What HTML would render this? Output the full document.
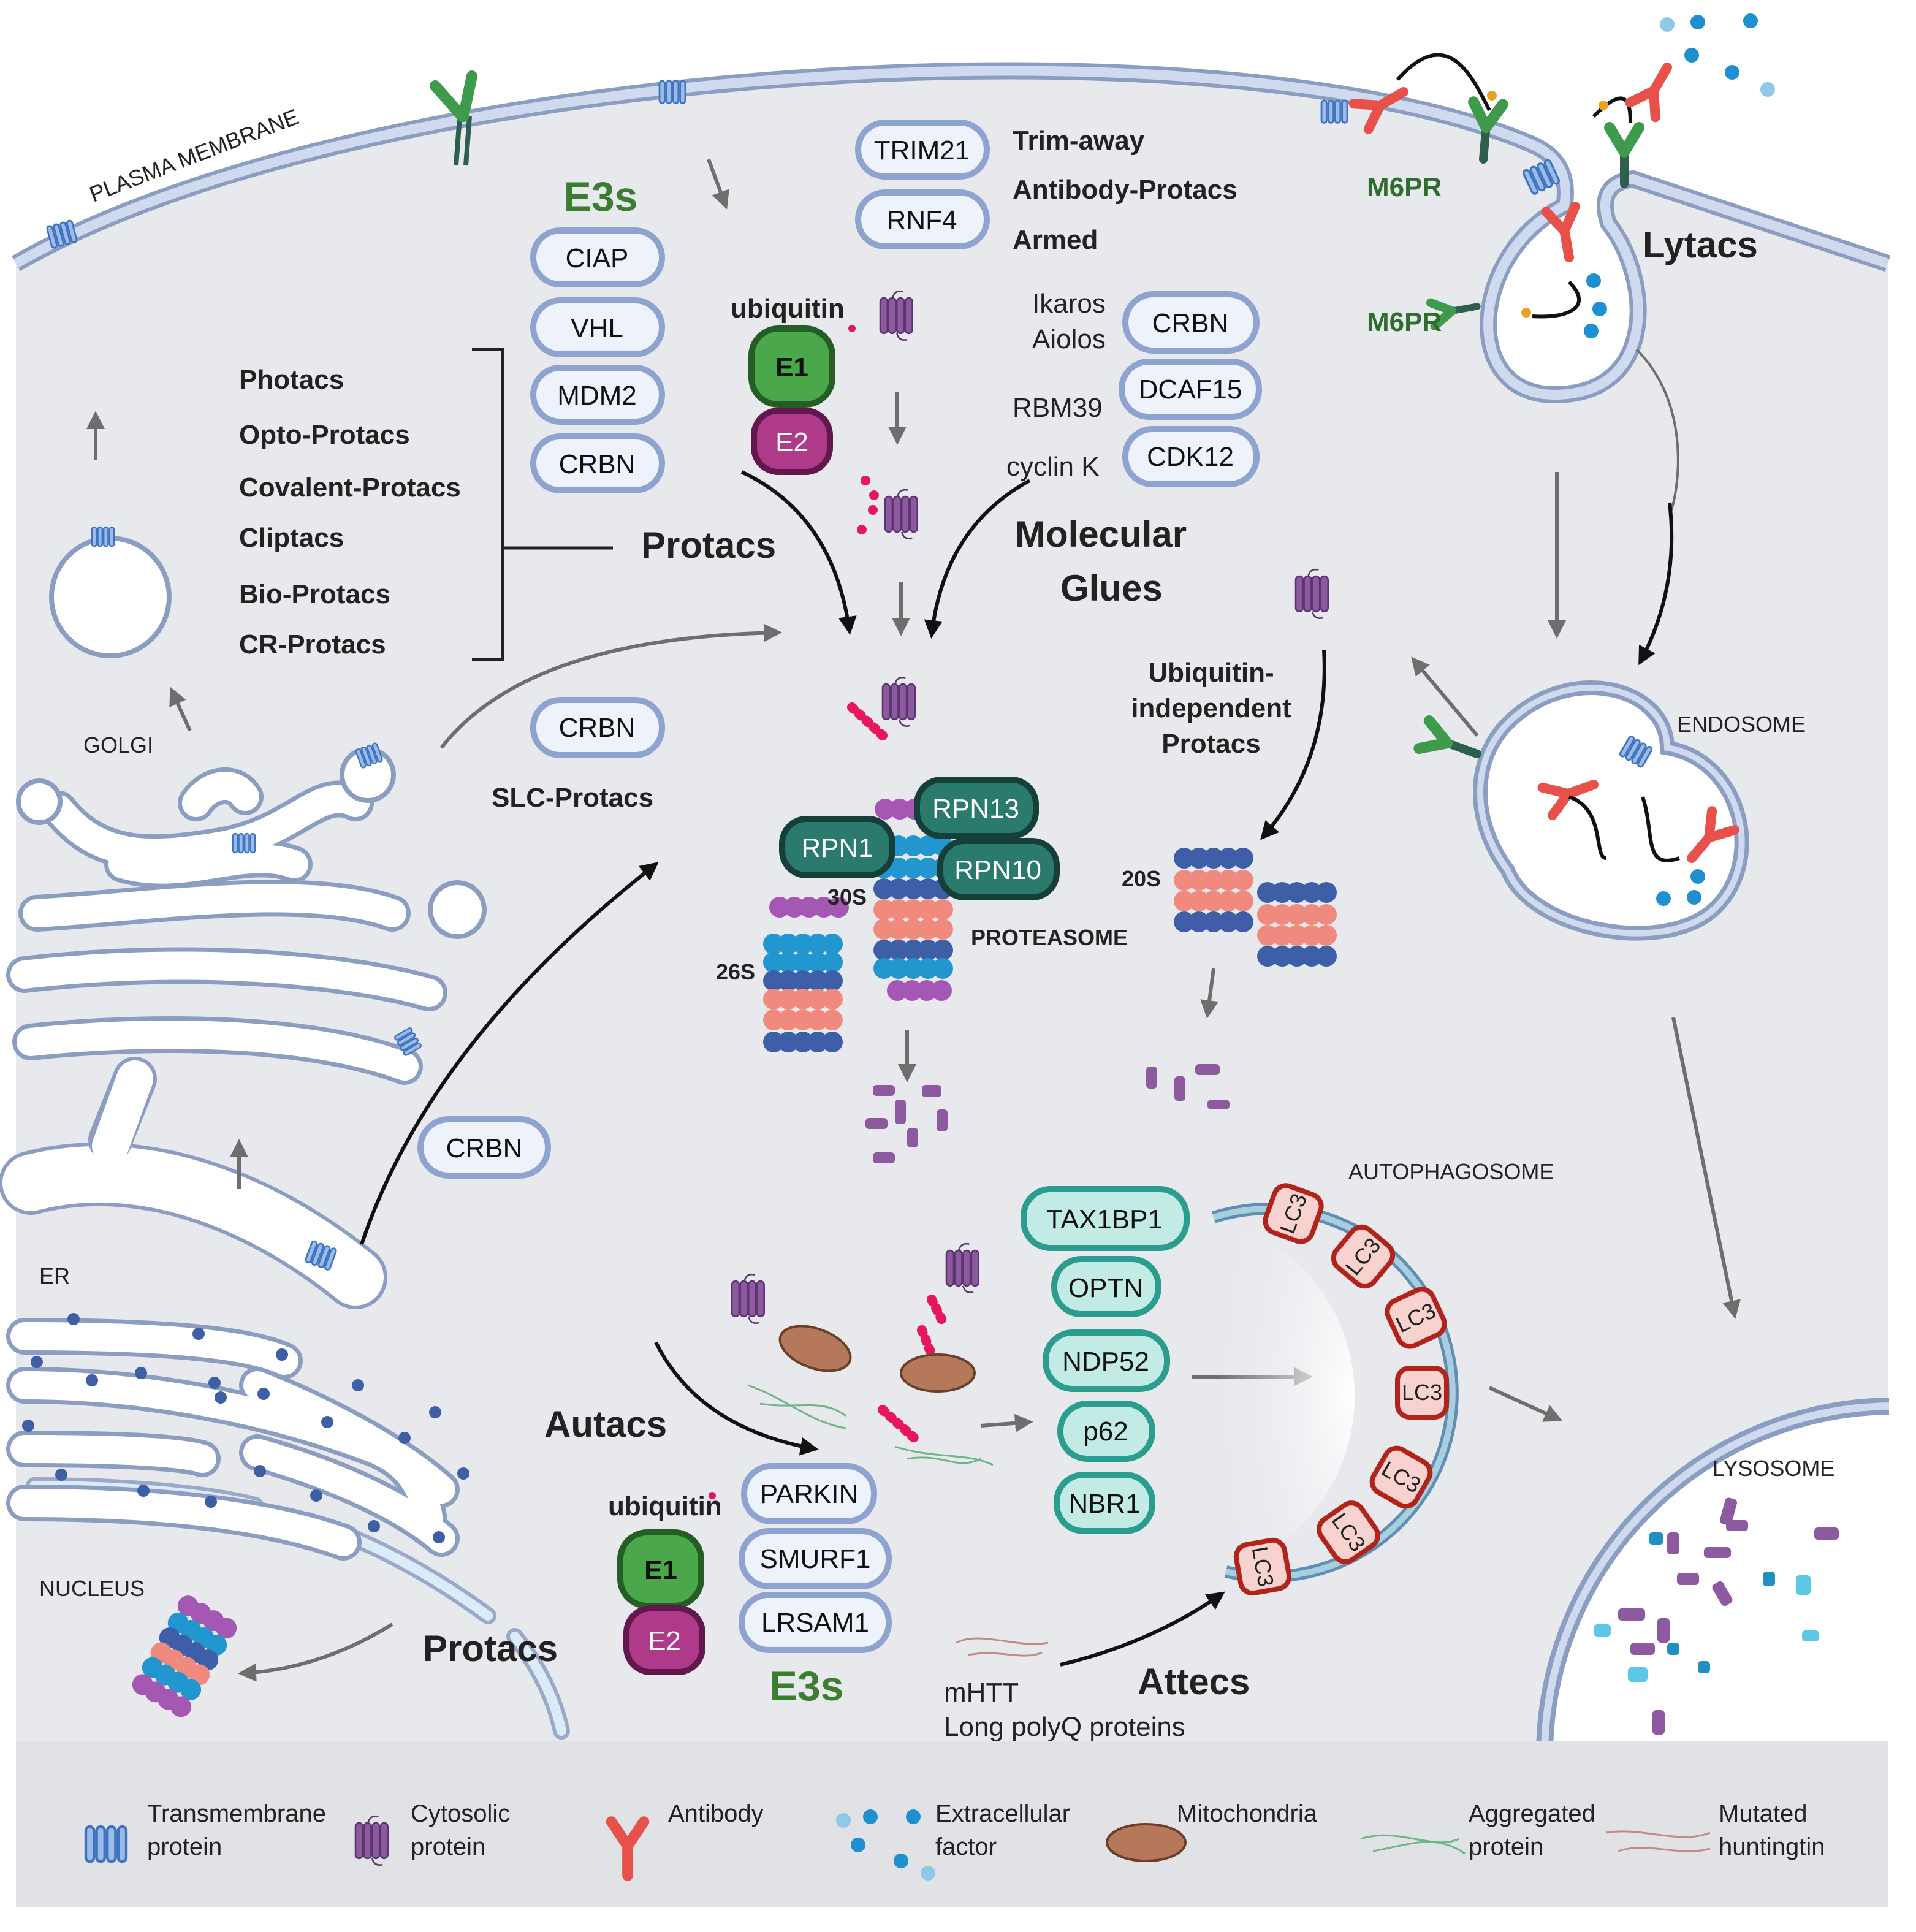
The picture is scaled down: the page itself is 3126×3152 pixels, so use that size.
<!DOCTYPE html>
<html><head><meta charset="utf-8"><style>
html,body{margin:0;padding:0;background:#fff;width:3126px;height:3152px;overflow:hidden}
svg{display:block;overflow:hidden}
text{font-family:"Liberation Sans",Arial,sans-serif}
.b{font-weight:bold}
</style></head><body>
<svg width="3126" height="3152" viewBox="0 0 1563 1576" xmlns="http://www.w3.org/2000/svg" overflow="hidden">
<defs>
<clipPath id="cellclip"><rect x="0" y="0" width="1541" height="1420"/></clipPath>
<marker id="ag" viewBox="0 0 10 10" refX="8" refY="5" markerWidth="5" markerHeight="5" orient="auto"><path d="M0,0 L10,5 L0,10 z" fill="#6e6e6e"/></marker>
<marker id="ak" viewBox="0 0 10 10" refX="8" refY="5" markerWidth="5" markerHeight="5" orient="auto"><path d="M0,0 L10,5 L0,10 z" fill="#111"/></marker>
<g id="row"><circle cx="-24" r="8.5"/><circle cx="-12" r="8.5"/><circle cx="0" r="8.5"/><circle cx="12" r="8.5"/><circle cx="24" r="8.5"/></g>
<g id="row4"><circle cx="-18" r="8.5"/><circle cx="-6" r="8.5"/><circle cx="6" r="8.5"/><circle cx="18" r="8.5"/></g>
<g id="tm" fill="#9dbbe8" stroke="#3f74c0" stroke-width="2"><rect x="0" y="0" width="6" height="26" rx="3"/><rect x="8" y="0" width="6" height="26" rx="3"/><rect x="16" y="0" width="6" height="26" rx="3"/><rect x="24" y="0" width="6" height="26" rx="3"/></g>
<g id="cy" fill="#8d5aa0" stroke="#5b3470" stroke-width="1.5"><rect x="0" y="0" width="7" height="34" rx="3.5"/><rect x="8" y="0" width="7" height="34" rx="3.5"/><rect x="16" y="0" width="7" height="34" rx="3.5"/><rect x="24" y="0" width="7" height="34" rx="3.5"/><path d="M12,0 Q14,-8 22,-6 M16,34 Q18,42 26,40" fill="none"/></g>
<g id="abG" stroke-linecap="round"><path d="M0,0 L0,-26" stroke="#2e5e4e" stroke-width="7"/><path d="M0,-26 L-12,-46 M0,-26 L12,-46" stroke="#3f9b4c" stroke-width="9"/></g>
<g id="abR" stroke-linecap="round"><path d="M0,0 L0,-22" stroke="#e8504a" stroke-width="8"/><path d="M0,-22 L-12,-40 M0,-22 L12,-40" stroke="#e8504a" stroke-width="8"/></g>
<radialGradient id="auto" cx="1" cy="0.5" r="1"><stop offset="0" stop-color="#fff"/><stop offset="1" stop-color="#e9eaee" stop-opacity="0"/></radialGradient>
</defs>

<!-- cell body -->
<path d="M13,215 C 300,50 1000,10 1250,118 Q 1282,132 1276,168 C 1200,205 1190,322 1268,322 C 1352,322 1348,228 1312,182 Q 1302,150 1332,146 L 1540,215 L1540,1420 L13,1420 Z" fill="#e8e9ed"/>
<path d="M13,215 C 300,50 1000,10 1250,118 Q 1282,132 1276,168 C 1200,205 1190,322 1268,322 C 1352,322 1348,228 1312,182 Q 1302,150 1332,146 L 1540,215" fill="none" stroke="#8c9dc2" stroke-width="14"/>
<path d="M13,215 C 300,50 1000,10 1250,118 Q 1282,132 1276,168 C 1200,205 1190,322 1268,322 C 1352,322 1348,228 1312,182 Q 1302,150 1332,146 L 1540,215" fill="none" stroke="#cfdaee" stroke-width="8"/>
<text x="0" y="0" font-size="18" fill="#222" transform="translate(76,165) rotate(-21)">PLASMA MEMBRANE</text>

<!-- lysosome -->
<g clip-path="url(#cellclip)">
<circle cx="1545" cy="1432" r="285" fill="#fff" stroke="#8c9dc2" stroke-width="14"/>
<circle cx="1545" cy="1432" r="285" fill="none" stroke="#cfdaee" stroke-width="6"/>
</g>
<!-- legend band -->
<rect x="13" y="1420" width="1527" height="136" fill="#e1e2e5"/>
<text x="1397" y="1204" font-size="18" fill="#222">LYSOSOME</text>
<g fill="#8d5aa0"><rect x="1405" y="1222" width="10" height="22" rx="3" transform="rotate(15 1410 1233)"/><rect x="1480" y="1246" width="20" height="10" rx="3"/><rect x="1360" y="1250" width="10" height="18" rx="3"/><rect x="1390" y="1262" width="22" height="9" rx="3"/><rect x="1368" y="1283" width="18" height="10" rx="3"/><rect x="1400" y="1290" width="10" height="20" rx="3" transform="rotate(-30 1405 1300)"/><rect x="1320" y="1312" width="22" height="10" rx="3"/><rect x="1352" y="1320" width="10" height="20" rx="3"/><rect x="1330" y="1340" width="20" height="10" rx="3"/><rect x="1348" y="1395" width="10" height="20" rx="3"/><rect x="1408" y="1240" width="18" height="9" rx="3"/></g>
<g fill="#1f8fc4"><rect x="1345" y="1250" width="12" height="10" rx="3"/><rect x="1438" y="1282" width="10" height="12" rx="3"/><rect x="1360" y="1340" width="10" height="10" rx="3"/><rect x="1385" y="1355" width="10" height="10" rx="3"/></g>
<g fill="#5bc8e6"><rect x="1465" y="1285" width="12" height="16" rx="3"/><rect x="1300" y="1325" width="14" height="10" rx="3"/><rect x="1328" y="1360" width="16" height="12" rx="3"/><rect x="1470" y="1330" width="14" height="9" rx="3"/></g>

<!-- nucleus envelope -->
<g fill="none" stroke-linecap="round">
<path d="M28,1212 C 100,1212 170,1218 208,1228" stroke="#9aa9c9" stroke-width="14"/>
<path d="M28,1212 C 100,1212 170,1218 208,1228" stroke="#dcebf8" stroke-width="8"/>
<path d="M250,1240 C 310,1260 360,1290 398,1318" stroke="#9aa9c9" stroke-width="14"/>
<path d="M250,1240 C 310,1260 360,1290 398,1318" stroke="#dcebf8" stroke-width="8"/>
<path d="M420,1335 C 440,1360 452,1385 458,1412" stroke="#9aa9c9" stroke-width="14"/>
<path d="M420,1335 C 440,1360 452,1385 458,1412" stroke="#dcebf8" stroke-width="8"/>
</g>
<text x="32" y="1302" font-size="18" fill="#222">NUCLEUS</text>

<!-- ER -->
<g fill="none" stroke-linecap="round" stroke-linejoin="round">
<g stroke="#8c9dc2" stroke-width="30">
<path d="M20,1090 C 120,1090 200,1095 232,1110"/>
<path d="M20,1130 C 120,1130 220,1150 300,1180 C 330,1190 345,1210 350,1240"/>
<path d="M20,1182 C 100,1182 150,1185 165,1190"/>
<path d="M20,1226 C 150,1226 230,1240 280,1258"/>
<path d="M210,1130 C 260,1150 320,1180 360,1215"/>
<path d="M210,1185 C 280,1205 330,1230 360,1255"/>
</g>
<g stroke="#fff" stroke-width="23">
<path d="M20,1090 C 120,1090 200,1095 232,1110"/>
<path d="M20,1130 C 120,1130 220,1150 300,1180 C 330,1190 345,1210 350,1240"/>
<path d="M20,1182 C 100,1182 150,1185 165,1190"/>
<path d="M20,1226 C 150,1226 230,1240 280,1258"/>
<path d="M210,1130 C 260,1150 320,1180 360,1215"/>
<path d="M210,1185 C 280,1205 330,1230 360,1255"/>
</g>
<path d="M25,965 C 120,940 220,985 290,1042" stroke="#8c9dc2" stroke-width="52"/>
<path d="M25,965 C 120,940 220,985 290,1042" stroke="#fff" stroke-width="46"/>
<path d="M90,930 L110,880" stroke="#8c9dc2" stroke-width="36"/>
<path d="M90,935 L110,880" stroke="#fff" stroke-width="30"/>
</g>
<g fill="#3e5ea6"><circle cx="60" cy="1076" r="5"/><circle cx="162" cy="1088" r="5"/><circle cx="30" cy="1111" r="5"/><circle cx="75" cy="1126" r="5"/><circle cx="115" cy="1120" r="5"/><circle cx="175" cy="1128" r="5"/><circle cx="180" cy="1140" r="5"/><circle cx="230" cy="1105" r="5"/><circle cx="215" cy="1137" r="5"/><circle cx="292" cy="1130" r="5"/><circle cx="355" cy="1152" r="5"/><circle cx="378" cy="1202" r="5"/><circle cx="330" cy="1173" r="5"/><circle cx="267" cy="1160" r="5"/><circle cx="23" cy="1163" r="5"/><circle cx="50" cy="1203" r="5"/><circle cx="117" cy="1216" r="5"/><circle cx="172" cy="1225" r="5"/><circle cx="212" cy="1200" r="5"/><circle cx="258" cy="1220" r="5"/><circle cx="305" cy="1245" r="5"/><circle cx="358" cy="1254" r="5"/></g>
<text x="32" y="1047" font-size="18" fill="#222">ER</text>
<use href="#tm" transform="translate(255,1012) rotate(20) scale(0.7)"/>

<!-- Golgi -->
<g fill="none" stroke-linecap="round">
<g stroke="#8c9dc2" stroke-width="30">
<path d="M48,660 C 80,700 120,700 180,690 C 240,680 260,640 290,655"/>
<path d="M30,745 C 120,740 250,720 320,745"/>
<path d="M20,795 C 150,780 280,790 350,810"/>
<path d="M25,850 C 120,840 250,840 330,870"/>
<path d="M100,705 C 150,720 200,690 240,705"/>
<path d="M160,655 C 170,640 190,635 200,650"/>
</g>
<g stroke="#fff" stroke-width="23">
<path d="M48,660 C 80,700 120,700 180,690 C 240,680 260,640 290,655"/>
<path d="M30,745 C 120,740 250,720 320,745"/>
<path d="M20,795 C 150,780 280,790 350,810"/>
<path d="M25,850 C 120,840 250,840 330,870"/>
<path d="M100,705 C 150,720 200,690 240,705"/>
<path d="M160,655 C 170,640 190,635 200,650"/>
</g>
</g>
<g fill="#fff" stroke="#8c9dc2" stroke-width="4"><circle cx="32" cy="654" r="17"/><circle cx="300" cy="632" r="21"/><circle cx="373" cy="742" r="22"/><circle cx="90" cy="487" r="48"/></g>
<use href="#tm" transform="translate(190,680) scale(0.6)"/>
<use href="#tm" transform="translate(290,612) rotate(-20) scale(0.6)"/>
<use href="#tm" transform="translate(335,838) rotate(60) scale(0.6)"/>
<use href="#tm" transform="translate(75,430) scale(0.6)"/>
<text x="68" y="614" font-size="18" fill="#222">GOLGI</text>

<!-- membrane proteins -->
<use href="#tm" transform="translate(38,185) rotate(-15) scale(0.7)"/>
<use href="#tm" transform="translate(538,66) scale(0.7)"/>
<use href="#tm" transform="translate(1078,82) scale(0.7)"/>
<use href="#tm" transform="translate(1242,140) rotate(-25) scale(0.8)"/>
<g stroke="#2e5e4e" stroke-width="4"><path d="M372,135 L375,95 M380,135 L383,95"/></g>
<path d="M377,95 L355,70 M378,95 L385,62" stroke="#3f9b4c" stroke-width="9" stroke-linecap="round"/>
<!-- lytacs top -->
<path d="M1140,65 C 1180,20 1200,60 1215,90" fill="none" stroke="#111" stroke-width="3"/>
<use href="#abR" transform="translate(1145,75) rotate(-120)"/>
<use href="#abG" transform="translate(1210,130) rotate(5)"/>
<path d="M1330,100 C 1330,80 1325,70 1300,95" fill="none" stroke="#111" stroke-width="3"/>
<use href="#abR" transform="translate(1360,55) rotate(210)"/>
<use href="#abG" transform="translate(1325,150)"/>
<use href="#abR" transform="translate(1280,210) rotate(-10)"/>
<path d="M1280,230 C 1300,250 1280,260 1250,258" fill="none" stroke="#111" stroke-width="3"/>
<use href="#abG" transform="translate(1205,250) rotate(-100) scale(0.8)"/>
<g fill="#e8a41c"><circle cx="1217" cy="78" r="4"/><circle cx="1308" cy="86" r="4"/><circle cx="1245" cy="255" r="4"/></g>
<g fill="#1e8fd0"><circle cx="1385" cy="18" r="6"/><circle cx="1428" cy="17" r="6"/><circle cx="1380" cy="45" r="6"/><circle cx="1413" cy="59" r="6"/><circle cx="1300" cy="229" r="6"/><circle cx="1305" cy="252" r="6"/><circle cx="1298" cy="270" r="6"/></g>
<g fill="#8ec9e8"><circle cx="1360" cy="20" r="6"/><circle cx="1442" cy="73" r="6"/></g>
<text x="1115" y="160" font-size="22" class="b" fill="#2f6d2f">M6PR</text>
<text x="1115" y="270" font-size="22" class="b" fill="#2f6d2f">M6PR</text>
<text x="1340" y="210" font-size="30" class="b" fill="#222">Lytacs</text>

<!-- endosome -->
<path d="M1230,590 C 1280,540 1360,560 1360,610 C 1420,620 1440,700 1400,740 C 1360,780 1250,760 1230,710 C 1200,670 1200,620 1230,590 Z" fill="#fff" stroke="#8c9dc2" stroke-width="12"/>
<path d="M1230,590 C 1280,540 1360,560 1360,610 C 1420,620 1440,700 1400,740 C 1360,780 1250,760 1230,710 C 1200,670 1200,620 1230,590 Z" fill="none" stroke="#cfdaee" stroke-width="5"/>
<text x="1368" y="597" font-size="18" fill="#222">ENDOSOME</text>
<use href="#abG" transform="translate(1205,615) rotate(-70)"/>
<use href="#abR" transform="translate(1300,640) rotate(-110)"/>
<use href="#tm" transform="translate(1330,600) rotate(30) scale(0.7)"/>
<use href="#abR" transform="translate(1380,700) rotate(40)"/>
<path d="M1280,650 C 1310,660 1300,700 1310,700 M1340,650 C 1350,680 1340,710 1370,700" fill="none" stroke="#111" stroke-width="3"/>
<g fill="#1e8fd0"><circle cx="1385" cy="715" r="6"/><circle cx="1357" cy="733" r="6"/><circle cx="1382" cy="732" r="6"/></g>

<!-- arrows gray -->
<g stroke="#6e6e6e" stroke-width="3" fill="none" marker-end="url(#ag)">
<path d="M578,130 L592,168"/>
<path d="M78,375 L78,338"/>
<path d="M155,596 L140,563"/>
<path d="M195,970 L195,932"/>
<path d="M732,320 L732,360"/>
<path d="M735,475 L735,516"/>
<path d="M740,840 L740,880"/>
<path d="M990,790 L985,828"/>
<path d="M1270,385 L1270,518"/>
<path d="M1205,600 L1153,538"/>
<path d="M1365,830 L1415,1073"/>
<path d="M972,1123 L1068,1123"/>
<path d="M800,1163 L840,1160"/>
<path d="M1215,1132 L1272,1158"/>
<path d="M1335,285 C 1380,330 1370,400 1362,420" marker-end="none" stroke-width="2"/>
<path d="M320,1325 Q 260,1362 197,1365"/>
<path d="M360,610 Q 430,520 635,516"/>
</g>
<!-- arrows black -->
<g stroke="#111" stroke-width="3" fill="none" marker-end="url(#ak)">
<path d="M605,385 Q 680,420 693,515"/>
<path d="M840,392 Q 770,430 760,518"/>
<path d="M1080,530 Q 1085,620 1030,683"/>
<path d="M1362,410 Q 1370,480 1338,540"/>
<path d="M535,1095 Q 570,1165 665,1182"/>
<path d="M865,1358 Q 940,1340 997,1300"/>
<path d="M295,1015 Q 350,850 535,705"/>
</g>
<!-- bracket -->
<path d="M385,285 L410,285 L410,538 L385,538 M410,447 L500,447" fill="none" stroke="#222" stroke-width="2.5"/>

<!-- E3 pills -->
<g fill="#edf2fb" stroke="#8fa3d0" stroke-width="5">
<rect x="435" y="188" width="105" height="44" rx="22"/>
<rect x="435" y="245" width="105" height="44" rx="22"/>
<rect x="435" y="300" width="105" height="44" rx="22"/>
<rect x="435" y="356" width="105" height="44" rx="22"/>
<rect x="700" y="100" width="105" height="44" rx="22"/>
<rect x="700" y="157" width="105" height="44" rx="22"/>
<rect x="918" y="240" width="107" height="46" rx="23"/>
<rect x="915" y="295" width="112" height="45" rx="22"/>
<rect x="918" y="350" width="107" height="45" rx="22"/>
<rect x="435" y="571" width="105" height="45" rx="22"/>
<rect x="343" y="913" width="104" height="46" rx="23"/>
<rect x="607" y="1196" width="106" height="45" rx="22"/>
<rect x="605" y="1249" width="120" height="45" rx="22"/>
<rect x="605" y="1301" width="120" height="45" rx="22"/>
</g>
<g font-size="22" fill="#111" text-anchor="middle">
<text x="487" y="218">CIAP</text><text x="487" y="275">VHL</text><text x="487" y="330">MDM2</text><text x="487" y="386">CRBN</text>
<text x="752" y="130">TRIM21</text><text x="752" y="187">RNF4</text>
<text x="971" y="271">CRBN</text><text x="971" y="325">DCAF15</text><text x="971" y="380">CDK12</text>
<text x="487" y="601">CRBN</text><text x="395" y="944">CRBN</text>
<text x="660" y="1226">PARKIN</text><text x="665" y="1279">SMURF1</text><text x="665" y="1331">LRSAM1</text>
</g>
<!-- teal receptors -->
<g fill="#c3ebe5" stroke="#2a9d8f" stroke-width="5">
<rect x="835" y="970" width="133" height="48" rx="22"/>
<rect x="860" y="1027" width="85" height="45" rx="22"/>
<rect x="853" y="1087" width="99" height="46" rx="22"/>
<rect x="865" y="1145" width="75" height="45" rx="22"/>
<rect x="862" y="1203" width="78" height="46" rx="22"/>
</g>
<g font-size="22" fill="#111" text-anchor="middle">
<text x="901" y="1002">TAX1BP1</text><text x="902" y="1058">OPTN</text><text x="902" y="1118">NDP52</text><text x="902" y="1175">p62</text><text x="901" y="1234">NBR1</text>
</g>

<!-- E1/E2 -->
<g stroke-width="5">
<rect x="613" y="268" width="66" height="62" rx="22" fill="#4aa84a" stroke="#255e25"/>
<rect x="615" y="335" width="62" height="50" rx="20" fill="#b03a8a" stroke="#62174f"/>
<rect x="506" y="1250" width="66" height="60" rx="22" fill="#4aa84a" stroke="#255e25"/>
<rect x="511" y="1312" width="62" height="52" rx="20" fill="#b03a8a" stroke="#62174f"/>
</g>
<g font-size="22" fill="#111" text-anchor="middle" class="b"><text x="646" y="307">E1</text><text x="539" y="1288">E1</text></g>
<g font-size="22" fill="#fff" text-anchor="middle"><text x="646" y="368">E2</text><text x="542" y="1346">E2</text></g>

<!-- proteasomes -->
<g>
<use href="#row" transform="translate(660,740)" fill="#a458b4"/>
<use href="#row" transform="translate(655,770)" fill="#2196cf"/>
<use href="#row" transform="translate(655,785)" fill="#2196cf"/>
<use href="#row" transform="translate(655,800)" fill="#3f5ea8"/>
<use href="#row" transform="translate(655,815)" fill="#f08a7e"/>
<use href="#row" transform="translate(655,832)" fill="#f08a7e"/>
<use href="#row" transform="translate(655,850)" fill="#3f5ea8"/>
<use href="#row4" transform="translate(740,660)" fill="#a458b4"/>
<use href="#row" transform="translate(745,690)" fill="#2196cf"/>
<use href="#row" transform="translate(745,708)" fill="#2196cf"/>
<use href="#row" transform="translate(745,725)" fill="#3f5ea8"/>
<use href="#row" transform="translate(745,742)" fill="#f08a7e"/>
<use href="#row" transform="translate(745,758)" fill="#f08a7e"/>
<use href="#row" transform="translate(745,775)" fill="#3f5ea8"/>
<use href="#row" transform="translate(745,790)" fill="#2196cf"/>
<use href="#row4" transform="translate(750,808)" fill="#a458b4"/>
<use href="#row" transform="translate(990,700)" fill="#3f5ea8"/>
<use href="#row" transform="translate(990,718)" fill="#f08a7e"/>
<use href="#row" transform="translate(990,735)" fill="#f08a7e"/>
<use href="#row" transform="translate(990,752)" fill="#3f5ea8"/>
<use href="#row" transform="translate(1058,728)" fill="#3f5ea8"/>
<use href="#row" transform="translate(1058,746)" fill="#f08a7e"/>
<use href="#row" transform="translate(1058,763)" fill="#f08a7e"/>
<use href="#row" transform="translate(1058,780)" fill="#3f5ea8"/>
<g transform="translate(150,1352) rotate(30)">
<use href="#row4" transform="translate(0,-38)" fill="#a458b4"/>
<use href="#row4" transform="translate(0,-22)" fill="#2196cf"/>
<use href="#row4" transform="translate(0,-8)" fill="#3f5ea8"/>
<use href="#row4" transform="translate(0,6)" fill="#f08a7e"/>
<use href="#row4" transform="translate(0,20)" fill="#2196cf"/>
<use href="#row4" transform="translate(0,36)" fill="#a458b4"/>
</g>
</g>
<!-- RPN -->
<g fill="#2b7a6e" stroke="#173f3a" stroke-width="5">
<rect x="748" y="636" width="97" height="46" rx="20"/>
<rect x="638" y="668" width="90" height="46" rx="20"/>
<rect x="767" y="686" width="95" height="46" rx="20"/>
</g>
<g font-size="22" fill="#fff" text-anchor="middle"><text x="796" y="667">RPN13</text><text x="683" y="699">RPN1</text><text x="814" y="717">RPN10</text></g>
<g font-size="18" class="b" fill="#222"><text x="675" y="738">30S</text><text x="584" y="799">26S</text><text x="915" y="723">20S</text><text x="792" y="771">PROTEASOME</text></g>

<!-- cytosolic proteins & ubiquitin -->
<use href="#cy" transform="translate(718,243) scale(0.85)"/>
<use href="#cy" transform="translate(722,405) scale(0.85)"/>
<use href="#cy" transform="translate(720,558) scale(0.85)"/>
<use href="#cy" transform="translate(1057,470) scale(0.85)"/>
<use href="#cy" transform="translate(597,1045) scale(0.85)"/>
<use href="#cy" transform="translate(772,1020) scale(0.85)"/>
<g fill="#e8175d"><circle cx="695" cy="268" r="3"/><circle cx="706" cy="392" r="4"/><circle cx="713" cy="404" r="4"/><circle cx="703" cy="432" r="4"/><circle cx="712" cy="416" r="4"/><circle cx="581" cy="1220" r="3"/></g>
<path d="M695,577 L720,600 M760,1060 L770,1080 M752,1085 L760,1105 M720,1150 L748,1175" stroke="#e8175d" stroke-width="8" stroke-linecap="round" stroke-dasharray="2 6"/>
<!-- fragments -->
<g fill="#8d5aa0"><rect x="712" y="885" width="18" height="9" rx="3"/><rect x="752" y="885" width="16" height="10" rx="3"/><rect x="730" y="897" width="9" height="20" rx="3"/><rect x="706" y="912" width="18" height="9" rx="3"/><rect x="764" y="905" width="9" height="18" rx="3"/><rect x="740" y="920" width="9" height="16" rx="3"/><rect x="712" y="940" width="18" height="9" rx="3"/><rect x="935" y="870" width="9" height="18" rx="3"/><rect x="975" y="868" width="20" height="9" rx="3"/><rect x="958" y="878" width="9" height="20" rx="3"/><rect x="985" y="897" width="18" height="8" rx="3"/></g>
<!-- mitochondria & aggregates -->
<g fill="#b5785a" stroke="#6b3f2a" stroke-width="2"><ellipse cx="665" cy="1100" rx="30" ry="16" transform="rotate(20 665 1100)"/><ellipse cx="765" cy="1120" rx="30" ry="15"/><ellipse cx="935" cy="1503" rx="32" ry="15"/></g>
<g stroke="#6fb58a" stroke-width="1.5" fill="none"><path d="M610,1130 C 640,1140 660,1160 690,1165 M620,1145 C 650,1150 670,1140 690,1155 M730,1180 C 760,1190 790,1185 810,1195 M740,1190 C 770,1185 780,1200 800,1190 M1110,1500 C 1140,1490 1170,1510 1190,1500 M1120,1510 C 1150,1505 1170,1495 1195,1512"/></g>
<g stroke="#c48a86" stroke-width="1.5" fill="none"><path d="M780,1340 C 800,1330 830,1345 855,1340 M790,1350 C 815,1345 835,1355 850,1348 M1310,1495 C 1340,1490 1370,1505 1395,1495 M1320,1510 C 1345,1502 1370,1515 1395,1508"/></g>

<!-- autophagosome -->
<path d="M990,993 A150,150 0 0 1 1000,1282" fill="url(#auto)" stroke="none"/>
<path d="M990,993 A150,150 0 1 1 1000,1282" fill="none" stroke="#5f8fb2" stroke-width="10"/>
<path d="M990,993 A150,150 0 1 1 1000,1282" fill="none" stroke="#a8cfe0" stroke-width="5"/>
<g fill="#f7d2ce" stroke="#b0241c" stroke-width="4">
<rect x="1035" y="970" width="40" height="40" rx="10" transform="rotate(-70 1055 990)"/>
<rect x="1092" y="1005" width="40" height="40" rx="10" transform="rotate(-50 1112 1025)"/>
<rect x="1135" y="1055" width="40" height="40" rx="10" transform="rotate(-25 1155 1075)"/>
<rect x="1140" y="1116" width="40" height="40" rx="10"/>
<rect x="1123" y="1185" width="40" height="40" rx="10" transform="rotate(30 1143 1205)"/>
<rect x="1080" y="1230" width="40" height="40" rx="10" transform="rotate(55 1100 1250)"/>
<rect x="1010" y="1258" width="40" height="40" rx="10" transform="rotate(80 1030 1278)"/>
</g>
<g font-size="18" fill="#222" text-anchor="middle">
<text transform="translate(1055,990) rotate(-70)" y="6">LC3</text>
<text transform="translate(1112,1025) rotate(-50)" y="6">LC3</text>
<text transform="translate(1155,1075) rotate(-25)" y="6">LC3</text>
<text x="1160" y="1142">LC3</text>
<text transform="translate(1143,1205) rotate(30)" y="6">LC3</text>
<text transform="translate(1100,1250) rotate(55)" y="6">LC3</text>
<text transform="translate(1030,1278) rotate(80)" y="6">LC3</text>
</g>
<text x="1100" y="962" font-size="18" fill="#222">AUTOPHAGOSOME</text>

<!-- labels -->
<text x="490" y="172" font-size="34" class="b" fill="#3c7d32" text-anchor="middle">E3s</text>
<text x="658" y="1387" font-size="34" class="b" fill="#3c7d32" text-anchor="middle">E3s</text>
<g font-size="22" class="b" fill="#222">
<text x="195" y="317">Photacs</text><text x="195" y="362">Opto-Protacs</text><text x="195" y="405">Covalent-Protacs</text><text x="195" y="446">Cliptacs</text><text x="195" y="492">Bio-Protacs</text><text x="195" y="533">CR-Protacs</text>
<text x="826" y="122">Trim-away</text><text x="826" y="162">Antibody-Protacs</text><text x="826" y="203">Armed</text>
<text x="596" y="259">ubiquitin</text><text x="496" y="1236">ubiquitin</text>
<text x="401" y="658">SLC-Protacs</text>
<text x="988" y="556" text-anchor="middle">Ubiquitin-</text><text x="988" y="585" text-anchor="middle">independent</text><text x="988" y="614" text-anchor="middle">Protacs</text>
</g>
<g font-size="30" class="b" fill="#222">
<text x="523" y="455">Protacs</text><text x="828" y="446">Molecular</text><text x="865" y="490">Glues</text>
<text x="444" y="1172">Autacs</text><text x="345" y="1355">Protacs</text><text x="928" y="1382">Attecs</text>
</g>
<g font-size="22" fill="#222">
<text x="842" y="255">Ikaros</text><text x="842" y="284">Aiolos</text><text x="826" y="340">RBM39</text><text x="821" y="388">cyclin K</text>
<text x="770" y="1388">mHTT</text><text x="770" y="1416">Long polyQ proteins</text>
</g>

<!-- legend -->
<use href="#tm" transform="translate(70,1490) scale(1.1)"/>
<use href="#cy" transform="translate(290,1487) scale(0.85)"/>
<use href="#abR" transform="translate(512,1530) scale(1.1)"/>
<g fill="#1e8fd0"><circle cx="710" cy="1482" r="6"/><circle cx="745" cy="1482" r="6"/><circle cx="700" cy="1505" r="6"/><circle cx="735" cy="1518" r="6"/></g>
<g fill="#8ec9e8"><circle cx="688" cy="1485" r="6"/><circle cx="757" cy="1528" r="6"/></g>
<g font-size="20" fill="#222">
<text x="120" y="1486">Transmembrane</text><text x="120" y="1513">protein</text>
<text x="335" y="1486">Cytosolic</text><text x="335" y="1513">protein</text>
<text x="545" y="1486">Antibody</text>
<text x="763" y="1486">Extracellular</text><text x="763" y="1513">factor</text>
<text x="960" y="1486">Mitochondria</text>
<text x="1198" y="1486">Aggregated</text><text x="1198" y="1513">protein</text>
<text x="1402" y="1486">Mutated</text><text x="1402" y="1513">huntingtin</text>
</g>
</svg>
</body></html>
